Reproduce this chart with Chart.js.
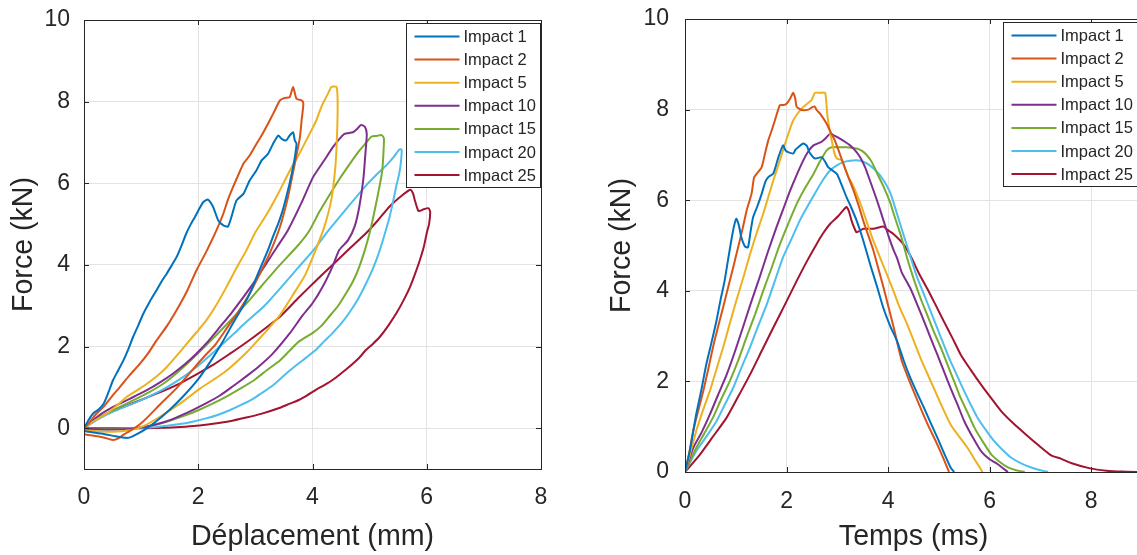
<!DOCTYPE html>
<html>
<head>
<meta charset="utf-8">
<script src="https://cdn.jsdelivr.net/npm/chart.js@4.4.0/dist/chart.umd.min.js"></script>
<style>
  html, body { margin: 0; padding: 0; background: #fff; overflow: hidden; }
  #wrapA { position: absolute; left: 0; top: 0; width: 560px; height: 555px; }
  #wrapB { position: absolute; left: 600px; top: 0; width: 545px; height: 555px; }
</style>
</head>
<body>
<div id="wrapA"><canvas id="depChart"></canvas></div>
<div id="wrapB"><canvas id="timeChart"></canvas></div>
<script>
// series labels and ticks
const impactLabels = ['Impact 1', 'Impact 2', 'Impact 5', 'Impact 10', 'Impact 15', 'Impact 20', 'Impact 25'];
const depXTicks = [0, 2, 4, 6, 8];
const depYTicks = [0, 2, 4, 6, 8, 10];
const timeXTicks = [0, 2, 4, 6, 8];
const timeYTicks = [0, 2, 4, 6, 8, 10];

// Force (kN) vs déplacement (mm), [x, y]
const depImpact1 = [[0,0],[0.08,0.2],[0.16,0.36],[0.25,0.45],[0.34,0.59],[0.42,0.85],[0.51,1.18],[0.6,1.42],[0.69,1.66],[0.78,1.95],[0.86,2.24],[0.95,2.52],[1.04,2.81],[1.15,3.1],[1.27,3.38],[1.36,3.6],[1.45,3.79],[1.54,4.0],[1.62,4.19],[1.7,4.45],[1.79,4.77],[1.87,5.0],[1.94,5.17],[2.02,5.38],[2.09,5.54],[2.17,5.6],[2.26,5.42],[2.35,5.09],[2.44,4.97],[2.52,4.94],[2.58,5.17],[2.67,5.58],[2.79,5.74],[2.9,6.07],[3.02,6.32],[3.11,6.56],[3.22,6.72],[3.31,6.97],[3.4,7.17],[3.46,7.09],[3.54,7.05],[3.6,7.17],[3.66,7.25],[3.69,7.05],[3.72,6.97],[3.7,6.72],[3.66,6.4],[3.6,6.0],[3.54,5.66],[3.47,5.3],[3.4,5.01],[3.31,4.7],[3.22,4.36],[3.12,4.03],[3.02,3.7],[2.92,3.35],[2.81,3.05],[2.62,2.6],[2.42,2.1],[2.22,1.65],[2.0,1.2],[1.75,0.8],[1.5,0.45],[1.25,0.15],[1.05,-0.05],[0.85,-0.2],[0.75,-0.24],[0.55,-0.2],[0.35,-0.14],[0.15,-0.1],[0,-0.07]];
const depImpact2 = [[0,0],[0.1,0.15],[0.2,0.33],[0.34,0.52],[0.5,0.8],[0.63,1.01],[0.8,1.3],[0.98,1.58],[1.13,1.85],[1.27,2.15],[1.45,2.5],[1.62,2.89],[1.8,3.35],[1.97,3.87],[2.15,4.35],[2.32,4.85],[2.44,5.26],[2.52,5.6],[2.61,5.91],[2.7,6.2],[2.79,6.48],[2.9,6.68],[3.02,6.97],[3.1,7.15],[3.19,7.38],[3.31,7.7],[3.43,8.03],[3.51,8.09],[3.6,8.11],[3.66,8.36],[3.72,8.07],[3.81,8.03],[3.84,7.95],[3.81,7.55],[3.78,7.13],[3.69,6.48],[3.57,5.66],[3.43,4.93],[3.25,4.28],[3.08,3.79],[2.9,3.3],[2.7,2.85],[2.5,2.45],[2.3,2.05],[2.1,1.75],[1.85,1.35],[1.6,0.95],[1.33,0.58],[1.15,0.32],[1.0,0.12],[0.86,-0.02],[0.7,-0.15],[0.6,-0.25],[0.51,-0.29],[0.4,-0.25],[0.28,-0.21],[0.15,-0.18],[0,-0.15]];
const depImpact5 = [[0,0],[0.2,0.2],[0.4,0.36],[0.58,0.56],[0.75,0.77],[0.92,0.92],[1.1,1.09],[1.28,1.28],[1.45,1.5],[1.62,1.77],[1.8,2.07],[1.97,2.35],[2.14,2.64],[2.3,2.98],[2.49,3.45],[2.66,3.9],[2.84,4.35],[3.0,4.8],[3.19,5.22],[3.4,5.75],[3.6,6.3],[3.76,6.7],[3.89,7.05],[4.0,7.35],[4.07,7.55],[4.13,7.78],[4.18,7.95],[4.27,8.19],[4.33,8.36],[4.42,8.36],[4.44,8.0],[4.43,7.2],[4.4,6.4],[4.33,5.6],[4.2,4.9],[4.05,4.35],[3.87,3.75],[3.65,3.25],[3.42,2.75],[3.19,2.38],[2.84,1.85],[2.44,1.35],[2.03,0.97],[1.68,0.6],[1.33,0.28],[1.04,0.05],[0.8,-0.05],[0.5,-0.09],[0.2,-0.07],[0,-0.05]];
const depImpact10 = [[0,0],[0.25,0.3],[0.51,0.52],[0.8,0.72],[1.1,0.93],[1.33,1.12],[1.56,1.34],[1.77,1.57],[1.97,1.83],[2.18,2.14],[2.38,2.48],[2.59,2.84],[2.79,3.21],[3.0,3.62],[3.19,4.03],[3.38,4.44],[3.57,4.85],[3.8,5.5],[4.01,6.15],[4.2,6.55],[4.36,6.89],[4.48,7.1],[4.56,7.21],[4.71,7.25],[4.78,7.33],[4.85,7.43],[4.92,7.38],[4.95,7.2],[4.93,6.8],[4.89,6.1],[4.82,5.43],[4.74,4.95],[4.62,4.6],[4.47,4.37],[4.35,3.96],[4.18,3.47],[4.0,3.06],[3.82,2.75],[3.6,2.32],[3.3,1.82],[3.05,1.5],[2.84,1.27],[2.6,1.02],[2.38,0.8],[2.15,0.62],[1.91,0.45],[1.68,0.3],[1.45,0.17],[1.1,0.04],[0.8,-0.02],[0.4,-0.03],[0,-0.02]];
const depImpact15 = [[0,0],[0.25,0.25],[0.51,0.44],[0.8,0.64],[1.1,0.85],[1.4,1.1],[1.68,1.42],[1.97,1.8],[2.26,2.2],[2.55,2.62],[2.84,3.05],[3.13,3.52],[3.43,4.0],[3.76,4.5],[3.95,4.85],[4.12,5.3],[4.3,5.72],[4.47,6.1],[4.65,6.47],[4.82,6.8],[4.93,6.98],[5.03,7.14],[5.12,7.16],[5.21,7.18],[5.25,7.1],[5.24,6.7],[5.22,6.3],[5.17,5.9],[5.12,5.55],[5.06,5.15],[5.0,4.78],[4.92,4.38],[4.82,3.96],[4.71,3.6],[4.59,3.31],[4.45,3.0],[4.29,2.73],[4.15,2.5],[4.0,2.33],[3.76,2.12],[3.6,1.9],[3.43,1.66],[3.2,1.42],[3.0,1.2],[2.75,0.98],[2.5,0.78],[2.25,0.6],[2.0,0.44],[1.75,0.3],[1.5,0.18],[1.15,0.05],[0.8,0],[0.4,-0.02],[0,-0.02]];
const depImpact20 = [[0,0],[0.25,0.22],[0.5,0.4],[0.8,0.57],[1.1,0.75],[1.4,0.96],[1.68,1.2],[1.97,1.5],[2.26,1.85],[2.55,2.22],[2.84,2.6],[3.16,3.0],[3.45,3.45],[3.76,3.95],[4.05,4.42],[4.3,4.88],[4.62,5.42],[4.94,5.95],[5.15,6.25],[5.3,6.45],[5.43,6.66],[5.52,6.83],[5.56,6.82],[5.55,6.55],[5.52,6.25],[5.47,5.95],[5.41,5.55],[5.35,5.18],[5.27,4.78],[5.18,4.37],[5.07,3.95],[4.94,3.55],[4.8,3.17],[4.65,2.84],[4.5,2.56],[4.35,2.33],[4.2,2.12],[4.06,1.92],[3.9,1.74],[3.76,1.59],[3.55,1.35],[3.31,1.05],[3.1,0.85],[2.96,0.72],[2.75,0.57],[2.55,0.44],[2.35,0.33],[2.14,0.24],[1.9,0.16],[1.68,0.1],[1.45,0.06],[1.2,0.02],[0.8,-0.01],[0.4,-0.03],[0,-0.02]];
const depImpact25 = [[0,0],[0.25,0.25],[0.51,0.42],[0.8,0.58],[1.1,0.75],[1.4,0.92],[1.68,1.1],[1.97,1.32],[2.26,1.55],[2.55,1.82],[2.84,2.1],[3.13,2.4],[3.43,2.73],[3.76,3.2],[4.05,3.6],[4.35,4.0],[4.65,4.4],[4.94,4.78],[5.15,5.1],[5.35,5.43],[5.55,5.68],[5.71,5.84],[5.76,5.75],[5.79,5.59],[5.85,5.33],[5.9,5.33],[5.94,5.36],[6.03,5.39],[6.06,5.3],[6.04,5.0],[6.0,4.78],[5.95,4.45],[5.88,4.12],[5.8,3.8],[5.71,3.47],[5.6,3.15],[5.47,2.82],[5.33,2.52],[5.18,2.24],[5.06,2.07],[4.94,1.92],[4.8,1.7],[4.65,1.51],[4.5,1.34],[4.35,1.18],[4.2,1.05],[4.06,0.94],[3.9,0.8],[3.76,0.69],[3.6,0.6],[3.43,0.5],[3.1,0.35],[2.84,0.26],[2.55,0.17],[2.26,0.11],[1.97,0.06],[1.68,0.03],[1.4,0.01],[1.1,0],[0.6,0],[0,0]];

// Force (kN) vs temps (ms), [t, y]
const timeImpact1 = [[0,0],[0.1,0.5],[0.22,1.27],[0.32,1.8],[0.42,2.38],[0.52,2.85],[0.62,3.34],[0.7,3.8],[0.78,4.22],[0.85,4.7],[0.91,5.1],[0.96,5.4],[1.01,5.59],[1.06,5.45],[1.11,5.18],[1.18,4.98],[1.24,4.96],[1.29,5.3],[1.34,5.62],[1.42,5.85],[1.51,6.14],[1.58,6.4],[1.64,6.51],[1.74,6.59],[1.84,6.95],[1.93,7.21],[1.98,7.1],[2.03,7.06],[2.13,7.03],[2.18,7.12],[2.23,7.17],[2.33,7.25],[2.4,7.2],[2.45,7.06],[2.56,6.92],[2.69,6.95],[2.76,6.85],[2.82,6.73],[2.99,6.58],[3.08,6.35],[3.18,6.07],[3.25,5.9],[3.38,5.55],[3.5,5.15],[3.65,4.57],[3.78,4.1],[3.91,3.61],[4.05,3.2],[4.18,2.88],[4.31,2.45],[4.44,2.07],[4.58,1.72],[4.71,1.41],[4.84,1.08],[4.97,0.76],[5.1,0.42],[5.23,0.1],[5.3,0]];
const timeImpact2 = [[0,0],[0.08,0.4],[0.16,0.9],[0.26,1.35],[0.36,1.79],[0.46,2.28],[0.55,2.75],[0.65,3.2],[0.75,3.63],[0.85,4.08],[0.95,4.52],[1.05,4.98],[1.14,5.4],[1.22,5.8],[1.31,6.14],[1.36,6.5],[1.41,6.58],[1.51,6.73],[1.58,7.05],[1.64,7.32],[1.71,7.55],[1.77,7.76],[1.87,8.1],[1.94,8.1],[2.0,8.13],[2.07,8.24],[2.13,8.37],[2.17,8.25],[2.2,8.06],[2.3,7.99],[2.43,8.0],[2.5,8.05],[2.55,8.07],[2.6,7.98],[2.66,7.91],[2.79,7.69],[2.87,7.5],[2.95,7.32],[3.04,7.05],[3.12,6.8],[3.22,6.5],[3.32,6.21],[3.42,5.88],[3.51,5.55],[3.61,5.22],[3.71,4.89],[3.81,4.48],[3.91,4.07],[4.01,3.63],[4.11,3.19],[4.27,2.45],[4.44,1.95],[4.64,1.41],[4.8,1.0],[4.93,0.7],[5.07,0.35],[5.2,0]];
const timeImpact5 = [[0,0],[0.1,0.4],[0.22,0.9],[0.35,1.35],[0.49,1.79],[0.62,2.27],[0.75,2.75],[0.88,3.27],[1.01,3.78],[1.15,4.3],[1.28,4.81],[1.41,5.27],[1.54,5.7],[1.64,6.07],[1.74,6.44],[1.84,6.78],[1.93,7.1],[2.03,7.45],[2.13,7.76],[2.23,7.93],[2.33,8.06],[2.49,8.21],[2.56,8.37],[2.66,8.37],[2.76,8.37],[2.8,7.91],[2.84,7.6],[2.89,7.32],[2.94,7.05],[2.99,6.92],[3.09,6.88],[3.15,6.7],[3.22,6.51],[3.3,6.35],[3.38,6.14],[3.48,5.85],[3.58,5.52],[3.71,5.1],[3.85,4.71],[3.98,4.35],[4.11,3.98],[4.24,3.6],[4.38,3.25],[4.51,2.88],[4.64,2.51],[4.77,2.18],[4.9,1.85],[5.06,1.45],[5.23,1.05],[5.4,0.78],[5.56,0.54],[5.72,0.25],[5.86,0]];
const timeImpact10 = [[0,0],[0.16,0.53],[0.33,0.88],[0.49,1.27],[0.65,1.7],[0.82,2.15],[0.98,2.65],[1.14,3.19],[1.3,3.74],[1.47,4.3],[1.63,4.85],[1.8,5.4],[1.94,5.82],[2.07,6.21],[2.2,6.56],[2.33,6.88],[2.43,7.08],[2.53,7.21],[2.69,7.29],[2.78,7.38],[2.86,7.47],[2.95,7.42],[3.05,7.36],[3.15,7.29],[3.25,7.21],[3.35,7.1],[3.45,6.95],[3.55,6.72],[3.64,6.44],[3.78,6.0],[3.91,5.55],[4.01,5.2],[4.11,4.89],[4.18,4.71],[4.27,4.4],[4.44,4.05],[4.58,3.68],[4.71,3.32],[4.84,2.95],[4.97,2.59],[5.1,2.22],[5.23,1.85],[5.37,1.48],[5.5,1.12],[5.66,0.78],[5.83,0.46],[6.0,0.28],[6.16,0.17],[6.36,0]];
const timeImpact15 = [[0,0],[0.22,0.53],[0.38,0.85],[0.55,1.2],[0.71,1.6],[0.88,2.0],[1.05,2.47],[1.21,2.97],[1.38,3.48],[1.54,4.0],[1.71,4.52],[1.87,5.03],[2.04,5.5],[2.2,5.92],[2.37,6.28],[2.53,6.58],[2.66,6.86],[2.79,7.1],[2.89,7.17],[3.03,7.17],[3.18,7.17],[3.28,7.16],[3.38,7.14],[3.47,7.1],[3.55,7.03],[3.67,6.86],[3.78,6.6],[3.91,6.3],[4.04,5.95],[4.11,5.7],[4.27,5.15],[4.38,4.7],[4.51,4.24],[4.64,3.83],[4.77,3.47],[4.9,3.1],[5.04,2.74],[5.17,2.37],[5.3,2.0],[5.43,1.63],[5.57,1.3],[5.7,0.98],[5.87,0.66],[6.03,0.39],[6.2,0.22],[6.36,0.1],[6.52,0.04],[6.69,0]];
const timeImpact20 = [[0,0],[0.22,0.46],[0.42,0.78],[0.62,1.12],[0.78,1.48],[0.95,1.86],[1.11,2.3],[1.28,2.75],[1.44,3.22],[1.61,3.7],[1.77,4.22],[1.93,4.74],[2.1,5.15],[2.26,5.55],[2.43,5.9],[2.59,6.21],[2.72,6.45],[2.86,6.66],[2.99,6.77],[3.12,6.84],[3.25,6.87],[3.38,6.88],[3.51,6.85],[3.64,6.77],[3.78,6.63],[3.91,6.44],[4.04,6.17],[4.17,5.72],[4.3,5.25],[4.44,4.75],[4.57,4.3],[4.71,3.91],[4.84,3.54],[4.97,3.17],[5.1,2.8],[5.23,2.44],[5.37,2.1],[5.5,1.78],[5.63,1.48],[5.76,1.2],[5.93,0.92],[6.09,0.68],[6.26,0.48],[6.42,0.32],[6.62,0.19],[6.82,0.1],[7.0,0.04],[7.15,0]];
const timeImpact25 = [[0,0],[0.29,0.38],[0.55,0.78],[0.82,1.2],[1.05,1.67],[1.28,2.15],[1.51,2.67],[1.74,3.19],[1.97,3.7],[2.2,4.22],[2.4,4.65],[2.59,5.03],[2.72,5.27],[2.86,5.48],[3.02,5.65],[3.18,5.85],[3.23,5.75],[3.28,5.55],[3.33,5.4],[3.38,5.29],[3.45,5.33],[3.51,5.37],[3.71,5.37],[3.91,5.42],[3.98,5.35],[4.11,5.25],[4.3,5.03],[4.45,4.75],[4.6,4.4],[4.77,4.05],[4.93,3.7],[5.1,3.32],[5.27,2.95],[5.43,2.59],[5.63,2.25],[5.83,1.93],[6.03,1.63],[6.23,1.34],[6.46,1.08],[6.69,0.85],[6.95,0.6],[7.22,0.36],[7.39,0.3],[7.6,0.2],[7.98,0.08],[8.3,0.03],[8.6,0.01],[9,0]];

const depSeries = [depImpact1, depImpact2, depImpact5, depImpact10, depImpact15, depImpact20, depImpact25];
const timeSeries = [timeImpact1, timeImpact2, timeImpact5, timeImpact10, timeImpact15, timeImpact20, timeImpact25];
const lineColors = ['#0072BD', '#D95319', '#EDB120', '#7E2F8E', '#77AC30', '#4DBEEE', '#A2142F'];

const FONT = '"Liberation Sans", Arial, Helvetica, sans-serif';
const INK = '#262626';
Chart.defaults.font.family = FONT;
Chart.defaults.color = INK;

// axes box, inward ticks and a MATLAB style legend
const matlabBox = {
    id: 'matlabBox',
    afterDatasetsDraw(chart) {
        const { ctx, chartArea: a, scales } = chart;
        ctx.save();
        ctx.strokeStyle = INK;
        ctx.lineWidth = 1;
        ctx.beginPath();
        const len = 5;
        scales.x.ticks.forEach(t => {
            const px = Math.round(scales.x.getPixelForValue(t.value)) + 0.5;
            ctx.moveTo(px, a.bottom); ctx.lineTo(px, a.bottom - len);
            ctx.moveTo(px, a.top); ctx.lineTo(px, a.top + len);
        });
        scales.y.ticks.forEach(t => {
            const py = Math.round(scales.y.getPixelForValue(t.value)) + 0.5;
            ctx.moveTo(a.left, py); ctx.lineTo(a.left + len, py);
            ctx.moveTo(a.right, py); ctx.lineTo(a.right - len, py);
        });
        ctx.stroke();
        ctx.strokeRect(Math.round(a.left) + 0.5, Math.round(a.top) + 0.5, Math.round(a.right - a.left), Math.round(a.bottom - a.top));
        ctx.restore();
    },
    afterDraw(chart, args, opts) {
        const { ctx, chartArea: a } = chart;
        const ds = chart.data.datasets;
        ctx.save();
        ctx.font = '16.5px ' + FONT;
        let maxW = 0;
        ds.forEach(d => { maxW = Math.max(maxW, ctx.measureText(d.label).width); });
        const rowH = 23.1;
        const w = Math.round(57 + maxW + 5);
        const h = Math.round(rowH * ds.length + 2);
        const x0 = Math.round(a.right - opts.inset - w) + 0.5;
        const y0 = Math.round(a.top + 3) + 0.5;
        ctx.fillStyle = '#fff';
        ctx.fillRect(x0, y0, w, h);
        ctx.strokeStyle = INK;
        ctx.lineWidth = 1;
        ctx.strokeRect(x0, y0, w, h);
        ctx.textBaseline = 'middle';
        ctx.textAlign = 'left';
        ds.forEach((d, i) => {
            const cy = y0 + 13 + i * rowH;
            ctx.strokeStyle = d.borderColor;
            ctx.lineWidth = 2;
            ctx.beginPath();
            ctx.moveTo(x0 + 8, cy); ctx.lineTo(x0 + 53, cy);
            ctx.stroke();
            ctx.fillStyle = INK;
            ctx.fillText(d.label, x0 + 57, cy + 1);
        });
        ctx.restore();
    }
};

function makeChart(id, series, xr, yr, xTicks, yTicks, xTitle, cfg) {
    const datasets = series.map((pts, i) => ({
        label: impactLabels[i],
        data: pts.map(p => ({ x: p[0], y: p[1] })),
        borderColor: lineColors[i],
        backgroundColor: lineColors[i],
        borderWidth: 2,
        showLine: true,
        pointRadius: 0,
        tension: 0.2
    }));
    return new Chart(document.getElementById(id), {
        type: 'scatter',
        data: { datasets },
        plugins: [matlabBox],
        options: {
            responsive: true,
            maintainAspectRatio: false,
            animation: false,
            layout: { padding: { top: cfg.top, right: cfg.right, left: 0, bottom: 0 } },
            plugins: { legend: { display: false }, tooltip: { enabled: false }, matlabBox: { inset: cfg.inset } },
            scales: {
                x: {
                    type: 'linear', min: xr[0], max: xr[1],
                    afterBuildTicks: s => { s.ticks = xTicks.map(v => ({ value: v })); },
                    afterFit: s => { s.height = cfg.xh; s.paddingLeft = 0; s.paddingRight = 0; },
                    grid: { color: '#e3e3e3', drawTicks: false },
                    border: { display: false },
                    ticks: { font: { size: 23 }, color: INK, padding: cfg.xpad, maxRotation: 0 },
                    title: { display: true, text: xTitle, font: { size: 28.6 }, color: INK, padding: { top: 0, bottom: 1 } }
                },
                y: {
                    type: 'linear', min: yr[0], max: yr[1],
                    afterBuildTicks: s => { s.ticks = yTicks.map(v => ({ value: v })); },
                    afterFit: s => { s.width = cfg.yw; s.paddingTop = 0; s.paddingBottom = 0; },
                    grid: { color: '#e3e3e3', drawTicks: false },
                    border: { display: false },
                    ticks: { font: { size: 23 }, color: INK, padding: cfg.ypad },
                    title: { display: true, text: 'Force (kN)', font: { size: 28.6 }, color: INK, padding: { top: cfg.ytp, bottom: 0 } }
                }
            }
        }
    });
}

makeChart('depChart', depSeries, [0, 8], [-1, 10], depXTicks, depYTicks, 'Déplacement (mm)',
    { top: 20, right: 19, yw: 84, xh: 86, xpad: 15, ypad: 14, ytp: 7, inset: 1 });
makeChart('timeChart', timeSeries, [0, 9], [0, 10], timeXTicks, timeYTicks, 'Temps (ms)',
    { top: 19, right: 3, yw: 85, xh: 83, xpad: 16, ypad: 16, ytp: 5, inset: 5 });
</script>
</body>
</html>
